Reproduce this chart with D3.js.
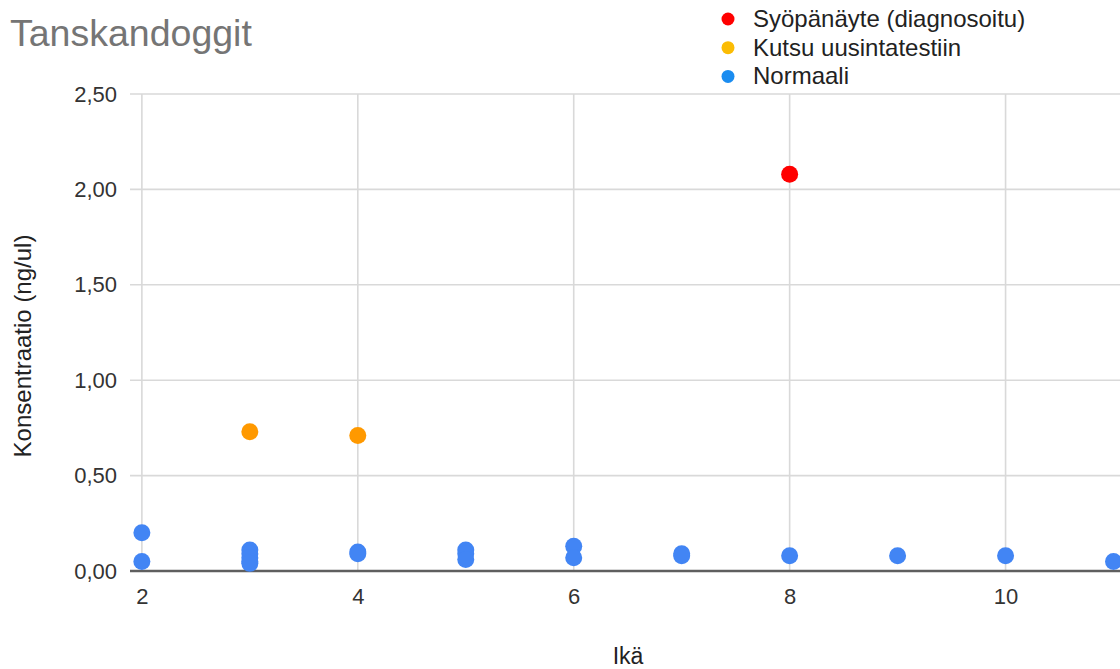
<!DOCTYPE html>
<html>
<head>
<meta charset="utf-8">
<script src="https://cdn.jsdelivr.net/npm/d3@7/dist/d3.min.js"></script>
<style>
  html, body { margin: 0; padding: 0; background: #fff; }
  svg { display: block; font-family: "Liberation Sans", Arial, sans-serif; }
</style>
</head>
<body>
<svg id="chart" width="1120" height="669"></svg>
<script>
// ---- Data ----
const title = "Tanskandoggit";
const xTitle = "Ikä";
const yTitle = "Konsentraatio (ng/ul)";
const seriesNames = ["Syöpänäyte (diagnosoitu)", "Kutsu uusintatestiin", "Normaali"];
const legendColors = ["#ff0000", "#fbbc04", "#1a8cf0"];
const markColors = ["#ff0000", "#ff9900", "#4285f4"];

const cancerAge = [8];
const cancerValue = [2.08];

const retestAge = [3, 4];
const retestValue = [0.73, 0.71];

const normalAge =   [2,    2,    3,    3,    3,    3,    3,    4,    4,    5,    5,    5,    6,    6,    7,    7,    8,    9,    10,   11];
const normalValue = [0.20, 0.05, 0.11, 0.09, 0.07, 0.05, 0.04, 0.10, 0.09, 0.11, 0.09, 0.06, 0.13, 0.07, 0.09, 0.08, 0.08, 0.08, 0.08, 0.05];

const xTicks = [2, 4, 6, 8, 10];
const yTicks = [0, 0.5, 1.0, 1.5, 2.0, 2.5];
const yTickLabels = ["0,00", "0,50", "1,00", "1,50", "2,00", "2,50"];

// ---- Chart ----
const svg = d3.select("#chart");
const x = d3.scaleLinear().domain([1.89, 11.06]).range([130, 1120]);
const y = d3.scaleLinear().domain([0, 2.5]).range([571, 94]);

// gridlines
svg.append("g").selectAll("line.h").data(yTicks.slice(1)).join("line")
  .attr("x1", x.range()[0]).attr("x2", x.range()[1])
  .attr("y1", d => y(d)).attr("y2", d => y(d))
  .attr("stroke", "#d9d9d9").attr("stroke-width", 1.6);
svg.append("g").selectAll("line.v").data(xTicks).join("line")
  .attr("x1", d => x(d)).attr("x2", d => x(d))
  .attr("y1", y(2.5)).attr("y2", y(0))
  .attr("stroke", "#d9d9d9").attr("stroke-width", 1.6);

// y axis labels
const yAxis = d3.axisLeft(y).tickValues(yTicks).tickSize(0).tickPadding(13)
  .tickFormat((d, i) => yTickLabels[i]);
const gy = svg.append("g").attr("transform", `translate(${x.range()[0]},0)`).call(yAxis);
gy.select(".domain").remove();
gy.selectAll("text").attr("font-size", 22).attr("fill", "#333")
  .attr("font-family", "Liberation Sans, Arial, sans-serif");

// x axis labels
const xAxis = d3.axisBottom(x).tickValues(xTicks).tickSize(0).tickPadding(17);
const gx = svg.append("g").attr("transform", `translate(0,${y(0)})`).call(xAxis);
gx.select(".domain").remove();
gx.selectAll("text").attr("font-size", 22).attr("fill", "#333")
  .attr("font-family", "Liberation Sans, Arial, sans-serif");

// baseline
svg.append("line")
  .attr("x1", x.range()[0]).attr("x2", x.range()[1])
  .attr("y1", y(0)).attr("y2", y(0))
  .attr("stroke", "#5f5f5f").attr("stroke-width", 2.4);

// points
const r = 8.5;
const groups = [
  { ages: normalAge, vals: normalValue, color: markColors[2] },
  { ages: retestAge, vals: retestValue, color: markColors[1] },
  { ages: cancerAge, vals: cancerValue, color: markColors[0] }
];
groups.forEach(g => {
  svg.append("g").selectAll("circle").data(g.ages.map((a, i) => [a, g.vals[i]])).join("circle")
    .attr("cx", d => x(d[0])).attr("cy", d => y(d[1])).attr("r", r)
    .attr("fill", g.color);
});

// title
svg.append("text").attr("x", 10).attr("y", 46).text(title)
  .attr("font-size", 37.5).attr("fill", "#757575");

// axis titles
svg.append("text").attr("x", 628).attr("y", 664).attr("text-anchor", "middle")
  .text(xTitle).attr("font-size", 23).attr("fill", "#222");
svg.append("text").attr("transform", "translate(31,346) rotate(-90)")
  .attr("text-anchor", "middle").text(yTitle)
  .attr("font-size", 24).attr("fill", "#222");

// legend
const lg = svg.append("g");
seriesNames.forEach((name, i) => {
  const cy = 19 + i * 28.7;
  lg.append("circle").attr("cx", 728).attr("cy", cy).attr("r", 6.5).attr("fill", legendColors[i]);
  lg.append("text").attr("x", 753).attr("y", cy + 8).text(name)
    .attr("font-size", 24).attr("fill", "#222");
});
</script>
</body>
</html>
